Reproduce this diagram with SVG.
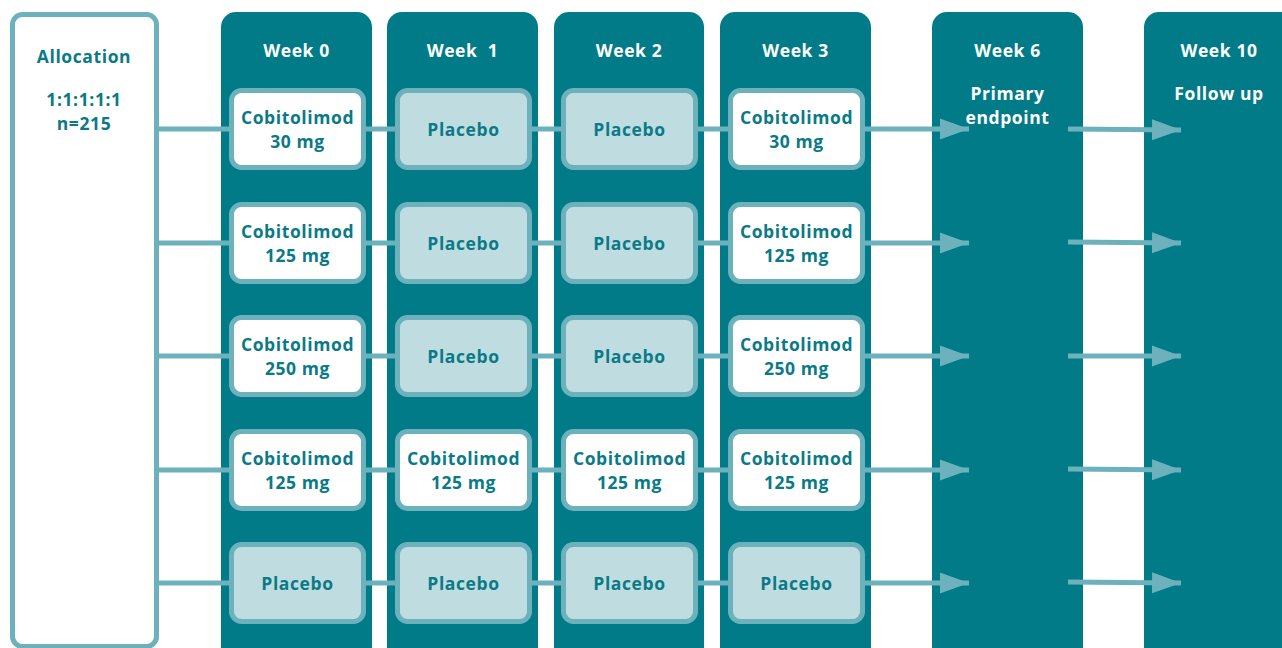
<svg xmlns="http://www.w3.org/2000/svg" width="1282" height="648" viewBox="0 0 1282 648">
<style>
.col{fill:#017b88}
.alloc{fill:#ffffff;stroke:#6db1bd;stroke-width:5}
.cell{stroke:#6db1bd;stroke-width:5}
.w{fill:#ffffff}
.p{fill:#bfdde0}
.t{font-family:"Open Sans","Noto Sans","DejaVu Sans",sans-serif;font-weight:bold;font-size:17.5px;text-anchor:middle;dominant-baseline:central;letter-spacing:0.6px}
.tc{fill:#0a7a87}
.th{fill:#ffffff}
.conn line{stroke:#6db1bd;stroke-width:5}
</style>
<defs>
<marker id="ah" markerUnits="userSpaceOnUse" markerWidth="30" markerHeight="22" refX="29" refY="11" orient="auto">
<path d="M0,0.5 L29,11 L0,21.5 Z" fill="#6db1bd"/>
</marker>
</defs>
<rect width="1282" height="648" fill="#ffffff"/>

<g id="allocation">
<rect class="alloc" x="12.5" y="14.5" width="144" height="632" rx="10"/>
<text class="t tc" x="84" y="56">Allocation</text>
<text class="t tc" x="84" y="99">1:1:1:1:1</text>
<text class="t tc" x="84" y="123">n=215</text>
</g>

<g id="col-week0"><rect class="col" x="221" y="12" width="151" height="660" rx="15"/><text class="t th" x="296.5" y="50">Week 0</text></g>
<g id="col-week1"><rect class="col" x="387" y="12" width="151" height="660" rx="15"/><text class="t th" x="462.5" y="50" style="white-space:pre" xml:space="preserve">Week  1</text></g>
<g id="col-week2"><rect class="col" x="554" y="12" width="150" height="660" rx="15"/><text class="t th" x="629" y="50">Week 2</text></g>
<g id="col-week3"><rect class="col" x="720" y="12" width="151" height="660" rx="15"/><text class="t th" x="795.5" y="50">Week 3</text></g>
<g id="col-week6"><rect class="col" x="932" y="12" width="151" height="660" rx="15"/><text class="t th" x="1007.5" y="50">Week 6</text><text class="t th" x="1007.5" y="93">Primary</text><text class="t th" x="1007.5" y="117">endpoint</text></g>
<g id="col-week10"><rect class="col" x="1144" y="12" width="160" height="660" rx="15"/><text class="t th" x="1219" y="50">Week 10</text><text class="t th" x="1219" y="93">Follow up</text></g>

<g id="connectors" class="conn">
<line x1="159" y1="129" x2="231" y2="129"/><line x1="364" y1="129" x2="397" y2="129"/><line x1="530" y1="129" x2="563" y2="129"/><line x1="697" y1="129" x2="730" y2="129"/><line x1="863" y1="129" x2="969" y2="129" marker-end="url(#ah)"/><line x1="1068" y1="129" x2="1181" y2="130" marker-end="url(#ah)"/>
<line x1="159" y1="243" x2="231" y2="243"/><line x1="364" y1="243" x2="397" y2="243"/><line x1="530" y1="243" x2="563" y2="243"/><line x1="697" y1="243" x2="730" y2="243"/><line x1="863" y1="243" x2="969" y2="243" marker-end="url(#ah)"/><line x1="1068" y1="242" x2="1181" y2="243" marker-end="url(#ah)"/>
<line x1="159" y1="356" x2="231" y2="356"/><line x1="364" y1="356" x2="397" y2="356"/><line x1="530" y1="356" x2="563" y2="356"/><line x1="697" y1="356" x2="730" y2="356"/><line x1="863" y1="356" x2="969" y2="356" marker-end="url(#ah)"/><line x1="1068" y1="356" x2="1181" y2="356" marker-end="url(#ah)"/>
<line x1="159" y1="470" x2="231" y2="470"/><line x1="364" y1="470" x2="397" y2="470"/><line x1="530" y1="470" x2="563" y2="470"/><line x1="697" y1="470" x2="730" y2="470"/><line x1="863" y1="470" x2="969" y2="470" marker-end="url(#ah)"/><line x1="1068" y1="469" x2="1181" y2="470" marker-end="url(#ah)"/>
<line x1="159" y1="583" x2="231" y2="583"/><line x1="364" y1="583" x2="397" y2="583"/><line x1="530" y1="583" x2="563" y2="583"/><line x1="697" y1="583" x2="730" y2="583"/><line x1="863" y1="583" x2="969" y2="583" marker-end="url(#ah)"/><line x1="1068" y1="582" x2="1181" y2="583" marker-end="url(#ah)"/>
</g>

<!-- Row 1 -->
<g id="r1w0"><rect class="cell w" x="231.5" y="90.5" width="132" height="77" rx="10"/><text class="t tc" x="297.5" y="117">Cobitolimod</text><text class="t tc" x="297.5" y="141">30 mg</text></g>
<g id="r1w1"><rect class="cell p" x="397.5" y="90.5" width="132" height="77" rx="10"/><text class="t tc" x="463.5" y="129">Placebo</text></g>
<g id="r1w2"><rect class="cell p" x="563.5" y="90.5" width="132" height="77" rx="10"/><text class="t tc" x="629.5" y="129">Placebo</text></g>
<g id="r1w3"><rect class="cell w" x="730.5" y="90.5" width="132" height="77" rx="10"/><text class="t tc" x="796.5" y="117">Cobitolimod</text><text class="t tc" x="796.5" y="141">30 mg</text></g>

<!-- Row 2 -->
<g id="r2w0"><rect class="cell w" x="231.5" y="204.5" width="132" height="77" rx="10"/><text class="t tc" x="297.5" y="231">Cobitolimod</text><text class="t tc" x="297.5" y="255">125 mg</text></g>
<g id="r2w1"><rect class="cell p" x="397.5" y="204.5" width="132" height="77" rx="10"/><text class="t tc" x="463.5" y="243">Placebo</text></g>
<g id="r2w2"><rect class="cell p" x="563.5" y="204.5" width="132" height="77" rx="10"/><text class="t tc" x="629.5" y="243">Placebo</text></g>
<g id="r2w3"><rect class="cell w" x="730.5" y="204.5" width="132" height="77" rx="10"/><text class="t tc" x="796.5" y="231">Cobitolimod</text><text class="t tc" x="796.5" y="255">125 mg</text></g>

<!-- Row 3 -->
<g id="r3w0"><rect class="cell w" x="231.5" y="317.5" width="132" height="77" rx="10"/><text class="t tc" x="297.5" y="344">Cobitolimod</text><text class="t tc" x="297.5" y="368">250 mg</text></g>
<g id="r3w1"><rect class="cell p" x="397.5" y="317.5" width="132" height="77" rx="10"/><text class="t tc" x="463.5" y="356">Placebo</text></g>
<g id="r3w2"><rect class="cell p" x="563.5" y="317.5" width="132" height="77" rx="10"/><text class="t tc" x="629.5" y="356">Placebo</text></g>
<g id="r3w3"><rect class="cell w" x="730.5" y="317.5" width="132" height="77" rx="10"/><text class="t tc" x="796.5" y="344">Cobitolimod</text><text class="t tc" x="796.5" y="368">250 mg</text></g>

<!-- Row 4 -->
<g id="r4w0"><rect class="cell w" x="231.5" y="431.5" width="132" height="77" rx="10"/><text class="t tc" x="297.5" y="458">Cobitolimod</text><text class="t tc" x="297.5" y="482">125 mg</text></g>
<g id="r4w1"><rect class="cell w" x="397.5" y="431.5" width="132" height="77" rx="10"/><text class="t tc" x="463.5" y="458">Cobitolimod</text><text class="t tc" x="463.5" y="482">125 mg</text></g>
<g id="r4w2"><rect class="cell w" x="563.5" y="431.5" width="132" height="77" rx="10"/><text class="t tc" x="629.5" y="458">Cobitolimod</text><text class="t tc" x="629.5" y="482">125 mg</text></g>
<g id="r4w3"><rect class="cell w" x="730.5" y="431.5" width="132" height="77" rx="10"/><text class="t tc" x="796.5" y="458">Cobitolimod</text><text class="t tc" x="796.5" y="482">125 mg</text></g>

<!-- Row 5 -->
<g id="r5w0"><rect class="cell p" x="231.5" y="544.5" width="132" height="77" rx="10"/><text class="t tc" x="297.5" y="583">Placebo</text></g>
<g id="r5w1"><rect class="cell p" x="397.5" y="544.5" width="132" height="77" rx="10"/><text class="t tc" x="463.5" y="583">Placebo</text></g>
<g id="r5w2"><rect class="cell p" x="563.5" y="544.5" width="132" height="77" rx="10"/><text class="t tc" x="629.5" y="583">Placebo</text></g>
<g id="r5w3"><rect class="cell p" x="730.5" y="544.5" width="132" height="77" rx="10"/><text class="t tc" x="796.5" y="583">Placebo</text></g>
</svg>
